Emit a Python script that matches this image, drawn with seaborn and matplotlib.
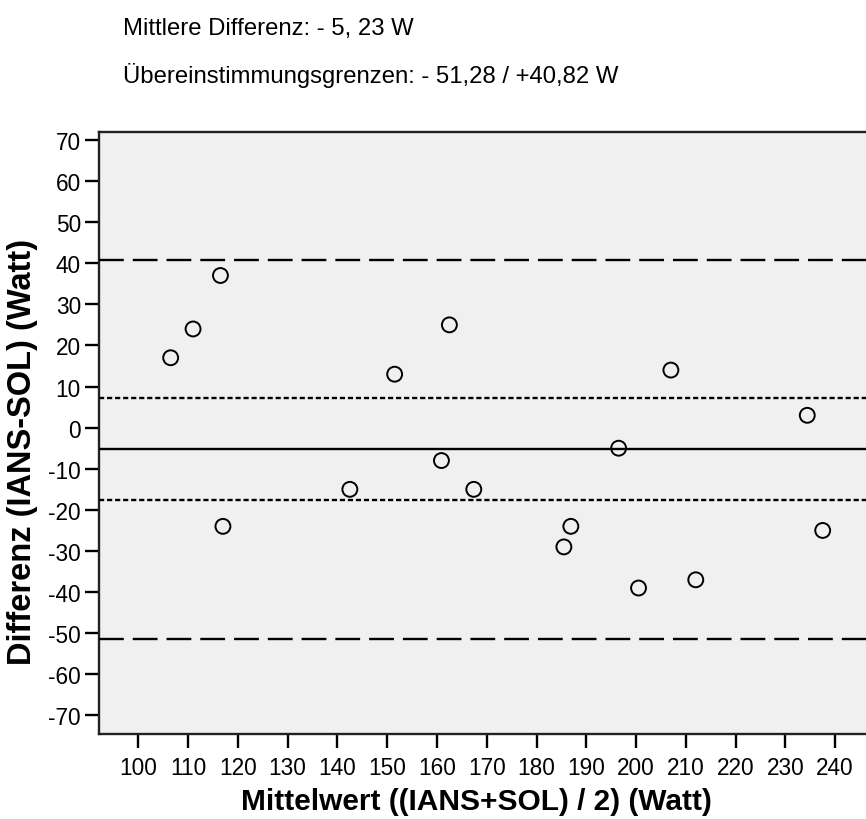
import matplotlib
matplotlib.use("Agg")
import matplotlib.pyplot as plt
import seaborn as sns
import pandas as pd

# ---- data ----
mean_values = [106.5, 111.0, 116.5, 117.0, 142.5, 151.5, 160.9, 162.5, 167.4,
               185.5, 186.9, 196.5, 200.5, 207.0, 212.0, 234.4, 237.5]
diff_values = [17, 24, 37, -24, -15, 13, -8, 25, -15,
               -29, -24, -5, -39, 14, -37, 3, -25]
mean_diff = -5.23
limits_of_agreement = [-51.28, 40.82]
inner_band = [-17.7, 7.3]
x_ticks = list(range(100, 241, 10))
y_ticks = list(range(-70, 71, 10))
title_lines = ["Mittlere Differenz: - 5, 23 W",
               "Übereinstimmungsgrenzen: - 51,28 / +40,82 W"]
x_label = "Mittelwert ((IANS+SOL) / 2) (Watt)"
y_label = "Differenz (IANS-SOL) (Watt)"

df = pd.DataFrame({"mean": mean_values, "diff": diff_values})

sns.set_theme(style="white")
plt.rcParams["font.family"] = ["Liberation Sans", "DejaVu Sans"]
plt.rcParams["axes.unicode_minus"] = False
plt.rcParams["text.color"] = "black"
plt.rcParams["axes.labelcolor"] = "black"
plt.rcParams["xtick.color"] = "black"
plt.rcParams["ytick.color"] = "black"

W, H = 866, 820
fig = plt.figure(figsize=(W / 100, H / 100), dpi=100)
left, right, top, bottom = 99, 866, 133, 735
ax = fig.add_axes([left / W, 1 - bottom / H, (right - left) / W, (bottom - top) / H])
ax.set_facecolor("#f0f0f0")

sns.scatterplot(data=df, x="mean", y="diff", ax=ax, marker="o", s=115,
                facecolor="none", edgecolor="black", linewidth=1.4, zorder=5)

ax.axhline(mean_diff, color="black", lw=1.7, zorder=3)
for v in limits_of_agreement:
    ax.axhline(v, color="black", lw=1.7, dashes=(10.5, 3.8), zorder=3)
for v in inner_band:
    ax.axhline(v, color="black", lw=1.7, dashes=(2.2, 1.2), zorder=3)

ax.set_xlim(92.1, 246.2)
ax.set_ylim(-74.5, 71.9)
ax.set_xticks(x_ticks)
ax.set_yticks(y_ticks)
ax.tick_params(axis="both", direction="out", length=10, width=1.7,
               color="black", labelsize=16.3, bottom=True, left=True)
ax.tick_params(axis="x", pad=6)
ax.tick_params(axis="y", pad=3)
for s in ["left", "bottom", "top"]:
    ax.spines[s].set_color("#222222")
    ax.spines[s].set_linewidth(1.7)
ax.spines["right"].set_visible(False)

ax.set_xlabel(x_label, fontsize=21.5, fontweight="bold")
ax.set_ylabel(y_label, fontsize=23.5, fontweight="bold")
ax.xaxis.set_label_coords((476 - left) / (right - left), -(788 - bottom) / (bottom - top))
ax.yaxis.set_label_coords(-(99 - 38) / (right - left), (bottom - 452) / (bottom - top))

fig.text(123 / W, 1 - 35 / H, title_lines[0], fontsize=17.2,
         ha="left", va="baseline")
fig.text(123 / W, 1 - 83 / H, title_lines[1], fontsize=17.2,
         ha="left", va="baseline")

fig.savefig("out.png", dpi=100)
